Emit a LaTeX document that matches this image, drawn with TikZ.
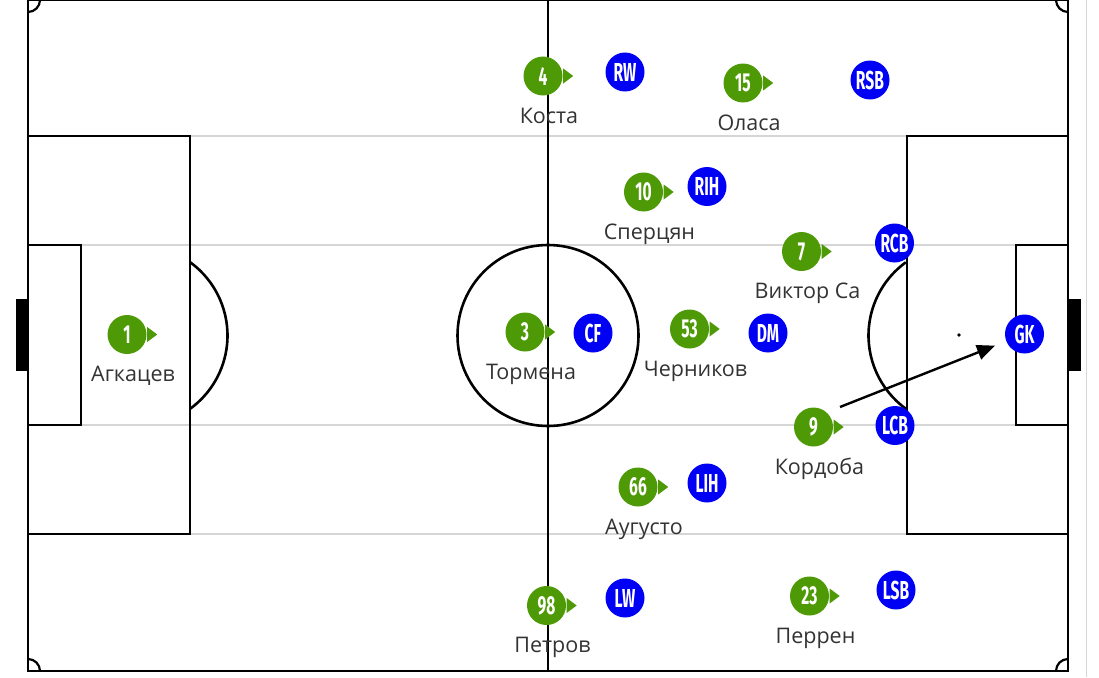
\documentclass[tikz,border=0pt]{standalone}
\usepackage{fontspec}
\setmainfont{Open Sans}
\newfontfamily\numfont[FakeStretch=0.6]{Fira Sans}
\usetikzlibrary{arrows.meta}
\definecolor{homegreen}{RGB}{78,154,6}
\definecolor{awayblue}{RGB}{0,0,245}
\definecolor{lanegray}{RGB}{214,214,214}
\definecolor{namegray}{RGB}{51,51,51}
\tikzset{
  pitch/.style={line width=2.6pt, black},
  lane/.style={line width=2.4pt, lanegray},
  home/.style={circle, fill=homegreen, minimum size=39pt, inner sep=0pt,
    text=white, font=\numfont\bfseries\fontsize{26}{26}\selectfont},
  away/.style={home, fill=awayblue},
  pname/.style={anchor=base, text=namegray, font=\fontsize{21.5}{21.5}\selectfont},
  pass/.style={line width=2.4pt, -{Triangle[length=18pt,width=15pt]}},
}

\begin{document}
\begin{tikzpicture}[x=1pt,y=-1pt]
  \useasboundingbox (0,0) rectangle (1099,677);
  % lanes
  \foreach \y in {136,245,425,534} {
    \draw[lane] (28,\y) -- (1068,\y);
  }
  \draw[lanegray, line width=1pt] (1086,0) -- (1086,677);
  % pitch
  \draw[pitch] (28,0) rectangle (1068,671);
  \draw[pitch] (548,0) -- (548,671);
  \draw[pitch] (548,335.5) circle[radius=90.5];
  \draw[pitch] (28,136) rectangle (190,534);
  \draw[pitch] (28,245) rectangle (81,425);
  \draw[pitch] (907,136) rectangle (1068,534);
  \draw[pitch] (1016,245) rectangle (1068,425);
  \draw[pitch] ([shift={(-54:90.5)}]137,335.5) arc[start angle=-54, end angle=54, radius=90.5];
  \draw[pitch] ([shift={(126:90.5)}]959,335.5) arc[start angle=126, end angle=234, radius=90.5];
  \foreach \x/\y/\a/\b in {28/0/0/90, 28/671/-90/0, 1068/0/180/90, 1068/671/270/180} {
    \draw[pitch, line width=2.2pt] ([shift={(\a:12)}]\x,\y) arc[start angle=\a, end angle=\b, radius=12];
  }
  \fill (137,335.5) circle[radius=1.8];
  \fill (959,335) circle[radius=1.8];
  \fill (16,299) rectangle (28,371);
  \fill (1068,299) rectangle (1081,371);
  % opponents
  \foreach \pos/\x/\y in {RW/625/72, RSB/870/80, RIH/707/186.5, RCB/894.5/243,
      CF/593/333, DM/768/333, LCB/895/425.5, GK/1024.5/334, LIH/707/483,
      LW/625/598, LSB/896/590} {
    \node[away] (a\pos) at (\x,\y) {\pos};
  }
  % players
  \foreach \num/\x/\y/\who in {1/127/334.5/Агкацев, 4/543/76/Коста, 15/743/83/Оласа,
      10/643.5/192/Сперцян, 7/801.5/251.5/Виктор Са, 3/525/332/Тормена,
      53/689.5/329/Черников, 9/813.5/427/Кордоба, 66/638/487/Аугусто,
      98/546.5/605.5/Петров, 23/809.5/596/Перрен} {
    \node[home] (h\num) at (\x,\y) {\num};
    \fill[homegreen] ([xshift=0.5pt]h\num.east) -- ++(0,-7.5) -- ++(10,7.5) -- ++(-10,7.5) -- cycle;
    \node[pname] (n\num) at (\x+6,\y+47) {\who};
  }
  % pass
  \coordinate (passfrom) at (840,407);
  \draw[pass, shorten >=12pt] (passfrom) -- (aGK);
\end{tikzpicture}
\end{document}
